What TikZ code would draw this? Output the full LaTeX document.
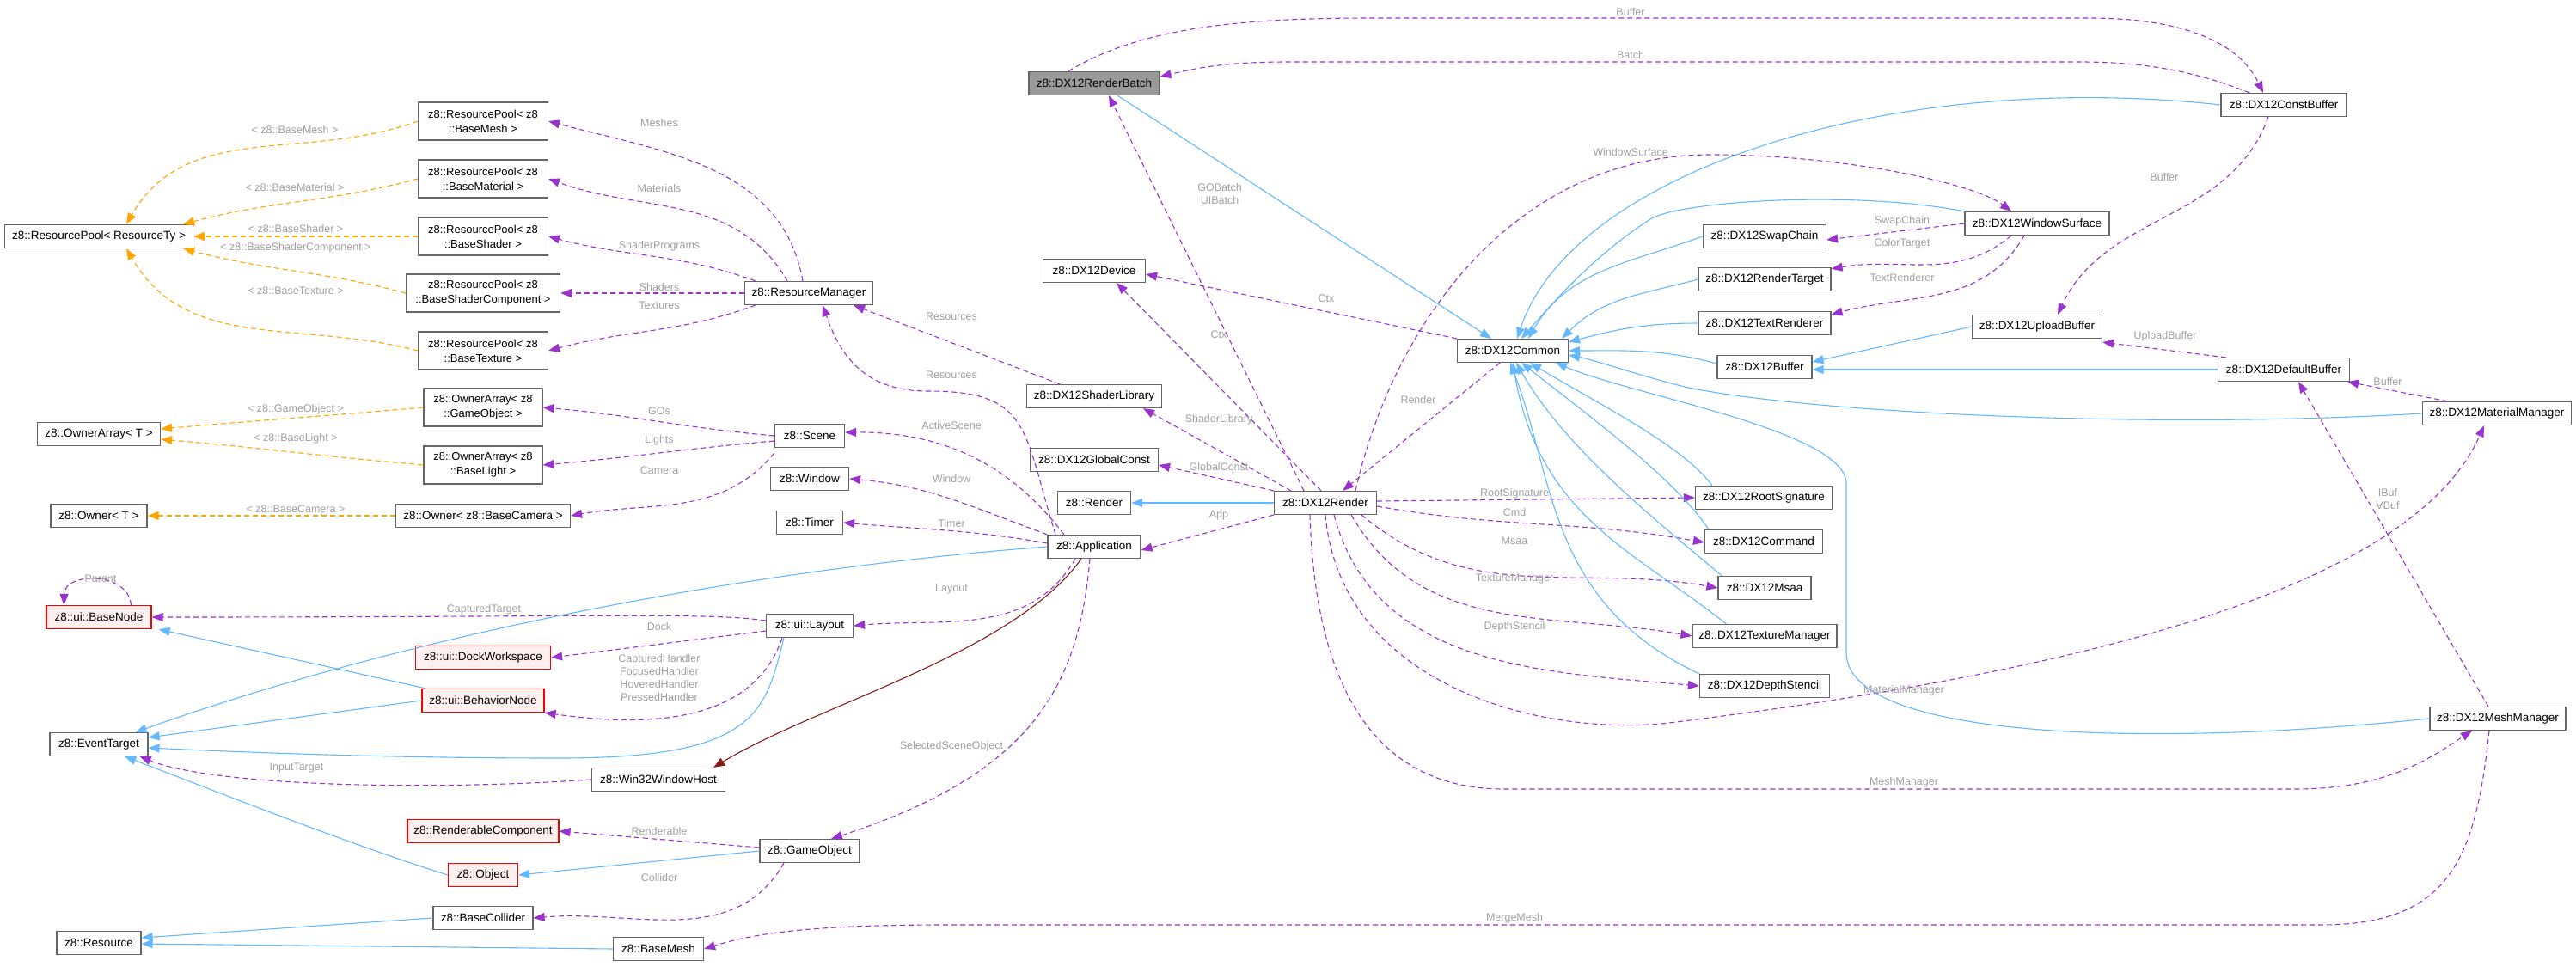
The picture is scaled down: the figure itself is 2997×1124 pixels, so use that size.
\documentclass[tikz,border=0pt]{standalone}
\usepackage{fontspec}
\setmainfont{Liberation Sans}
\usetikzlibrary{arrows.meta}
\definecolor{pur}{HTML}{9A32CD}
\definecolor{blu}{HTML}{63B8FF}
\definecolor{org}{HTML}{FFA500}
\definecolor{drd}{HTML}{8B1A1A}
\definecolor{lblc}{HTML}{A0A0A0}
\definecolor{bx}{HTML}{666666}
\begin{document}
\begin{tikzpicture}[x=1pt,y=-1pt,
 n/.style={draw=bx,line width=1.2pt,fill=white,minimum height=27pt,inner sep=1pt,font=\fontsize{13.5}{15}\selectfont,align=center},
 n2/.style={n,minimum height=44pt,font=\fontsize{13}{17}\selectfont},
 red/.style={n,draw=red,fill=red!6},
 inh/.style={draw=blu,line width=1.1pt,-{Triangle[length=13pt,width=10pt]}},
 use/.style={draw=pur,line width=1.1pt,dash pattern=on 6pt off 4pt,-{Triangle[length=13pt,width=10pt]}},
 tmpl/.style={draw=org,line width=1.1pt,dash pattern=on 6pt off 4pt,-{Triangle[length=13pt,width=10pt]}},
 lbl/.style={text=lblc,font=\fontsize{12.5}{15}\selectfont,align=center,inner sep=0pt}]
\useasboundingbox (0,0) rectangle (2997,1124);
% nodes
\node[n,minimum width=219] (rp) at (115,275) {z8::ResourcePool< ResourceTy >};
\node[n2,minimum width=151] (rpMesh) at (562,141) {z8::ResourcePool< z8\\::BaseMesh >};
\node[n2,minimum width=151] (rpMat) at (562,208) {z8::ResourcePool< z8\\::BaseMaterial >};
\node[n2,minimum width=151] (rpShd) at (562,275) {z8::ResourcePool< z8\\::BaseShader >};
\node[n2,minimum width=179] (rpShc) at (562,341) {z8::ResourcePool< z8\\::BaseShaderComponent >};
\node[n2,minimum width=151] (rpTex) at (562,408) {z8::ResourcePool< z8\\::BaseTexture >};
\node[n,minimum width=143] (oa) at (115,505) {z8::OwnerArray< T >};
\node[n2,minimum width=138] (oaGO) at (562,474) {z8::OwnerArray< z8\\::GameObject >};
\node[n2,minimum width=138] (oaLt) at (562,541) {z8::OwnerArray< z8\\::BaseLight >};
\node[n,minimum width=112] (ow) at (115,600) {z8::Owner< T >};
\node[n,minimum width=203] (owCam) at (562,600) {z8::Owner< z8::BaseCamera >};
\node[n,minimum width=149] (rm) at (941,341) {z8::ResourceManager};
\node[n,minimum width=81] (scene) at (942,507) {z8::Scene};
\node[n,minimum width=91] (win) at (942,557) {z8::Window};
\node[n,minimum width=77] (timer) at (942,608) {z8::Timer};
\node[n,minimum width=108] (app) at (1273,636) {z8::Application};
\node[red,minimum width=122] (basenode) at (115,718) {z8::ui::BaseNode};
\node[n,minimum width=114] (evt) at (115,866) {z8::EventTarget};
\node[red,minimum width=157] (dock) at (562,765) {z8::ui::DockWorkspace};
\node[red,minimum width=142] (beh) at (562,815) {z8::ui::BehaviorNode};
\node[n,minimum width=101] (layout) at (942,728) {z8::ui::Layout};
\node[n,minimum width=155] (host) at (766,907) {z8::Win32WindowHost};
\node[red,minimum width=176] (rcomp) at (562,967) {z8::RenderableComponent};
\node[red,minimum width=81] (obj) at (562,1018) {z8::Object};
\node[n,minimum width=116] (go) at (942,990) {z8::GameObject};
\node[n,minimum width=116] (coll) at (562,1068) {z8::BaseCollider};
\node[n,minimum width=98] (res) at (115,1097) {z8::Resource};
\node[n,minimum width=105] (bmesh) at (766,1104) {z8::BaseMesh};
\node[n,minimum width=152,fill=black!40] (batch) at (1273,97) {z8::DX12RenderBatch};
\node[n,minimum width=119] (device) at (1273,315) {z8::DX12Device};
\node[n,minimum width=157] (shlib) at (1273,461) {z8::DX12ShaderLibrary};
\node[n,minimum width=149] (gconst) at (1273,535) {z8::DX12GlobalConst};
\node[n,minimum width=85] (render) at (1273,585) {z8::Render};
\node[n,minimum width=119] (dxr) at (1542,585) {z8::DX12Render};
\node[n,minimum width=129] (common) at (1760,408) {z8::DX12Common};
\node[n,minimum width=143] (swap) at (2053,275) {z8::DX12SwapChain};
\node[n,minimum width=154] (rtgt) at (2053,325) {z8::DX12RenderTarget};
\node[n,minimum width=154] (txtr) at (2053,376) {z8::DX12TextRenderer};
\node[n,minimum width=110] (buf) at (2053,427) {z8::DX12Buffer};
\node[n,minimum width=146] (cbuf) at (2657,122) {z8::DX12ConstBuffer};
\node[n,minimum width=168] (wsurf) at (2370,260) {z8::DX12WindowSurface};
\node[n,minimum width=151] (upl) at (2370,380) {z8::DX12UploadBuffer};
\node[n,minimum width=153] (dbuf) at (2657,430) {z8::DX12DefaultBuffer};
\node[n,minimum width=173] (matm) at (2905,481) {z8::DX12MaterialManager};
\node[n,minimum width=159] (rsig) at (2052,579) {z8::DX12RootSignature};
\node[n,minimum width=137] (cmd) at (2052,630) {z8::DX12Command};
\node[n,minimum width=108] (msaa) at (2053,684) {z8::DX12Msaa};
\node[n,minimum width=168] (texm) at (2053,740) {z8::DX12TextureManager};
\node[n,minimum width=151] (dsten) at (2053,798) {z8::DX12DepthStencil};
\node[n,minimum width=158] (meshm) at (2906,836) {z8::DX12MeshManager};
% template edges
\draw[tmpl] (rpMesh.west) to[out=200,in=60] ([xshift=32pt]rp.north);
\draw[tmpl] (rpMat.west) to[out=195,in=15] ([xshift=-12pt]rp.north east);
\draw[tmpl] (rpShd.west) -- (rp.east);
\draw[tmpl] (rpShc.west) to[out=165,in=-15] ([xshift=-12pt]rp.south east);
\draw[tmpl] (rpTex.west) to[out=165,in=-60] ([xshift=32pt]rp.south);
\draw[tmpl] (oaGO.west) to[out=185,in=5] ([yshift=6pt]oa.east);
\draw[tmpl] (oaLt.west) to[out=175,in=-5] ([yshift=-6pt]oa.east);
\draw[tmpl] (owCam.west) -- (ow.east);
% resource manager
\draw[use] ([xshift=-7pt]rm.north) to[out=100,in=-15] (rpMesh.east);
\draw[use] ([xshift=-25pt]rm.north) to[out=120,in=-20] (rpMat.east);
\draw[use] ([xshift=13pt]rm.north west) to[out=160,in=-15] (rpShd.east);
\draw[use] (rm.west) -- (rpShc.east);
\draw[use] ([xshift=13pt]rm.south west) to[out=200,in=15] (rpTex.east);
\draw[use] ([xshift=-45pt]app.north) .. controls (1190,500) and (1200,455) .. (1080,455) .. controls (1010,455) and (980,420) .. ([xshift=16pt]rm.south);
\draw[use] ([xshift=-40pt]shlib.north) -- ([xshift=52pt]rm.south);
% scene
\draw[use] (scene.west) to[out=175,in=-5] (oaGO.east);
\draw[use] ([yshift=-6pt]scene.west) to[out=185,in=5] (oaLt.east);
\draw[use] ([yshift=-6pt]scene.south west) to[out=230,in=10] (owCam.east);
\draw[use] ([xshift=-35pt]app.north) .. controls (1190,560) and (1120,502) .. ([yshift=4pt]scene.east);
\draw[use] (app.north west) to[out=160,in=-5] (win.east);
\draw[use] ([yshift=4pt]app.west) to[out=170,in=-5] (timer.east);
\draw[use] ([xshift=-22pt]app.south) to[out=240,in=5] (layout.east);
\draw[use] ([xshift=-5pt]app.south) .. controls (1255,800) and (1200,900) .. ([xshift=25pt]go.north);
\draw[use] (dxr.south west) -- ([yshift=-4pt]app.east);
% ui
\draw[use] ([xshift=99pt]basenode.north west) .. controls (150,665) and (75,665) .. ([xshift=21pt]basenode.north west);
\draw[use] ([yshift=6pt]layout.west) .. controls (820,712) and (700,718) .. (basenode.east);
\draw[use] ([yshift=-6pt]layout.west) -- (dock.east);
\draw[use] ([xshift=-32pt]layout.south) .. controls (880,830) and (780,850) .. (beh.south east);
\draw[use] (host.west) .. controls (500,920) and (250,915) .. ([xshift=-10pt]evt.south east);
\draw[use] ([yshift=4pt]go.west) -- (rcomp.east);
\draw[use] ([xshift=-30pt]go.south) to[out=240,in=5] (coll.east);
\draw[use] ([xshift=-10pt]meshm.south) .. controls (2880,1000) and (2850,1076) .. (2700,1076) -- (1100,1076) .. controls (950,1076) and (880,1085) .. (bmesh.east);
% inheritance misc
\draw[inh] (dxr.west) -- (render.east);
\draw[inh] (app.west) .. controls (900,660) and (500,730) .. ([xshift=-15pt]evt.north east);
\draw[inh] ([xshift=-30pt]layout.south) .. controls (890,830) and (880,882) .. (650,882) .. controls (450,882) and (280,875) .. ([yshift=-4pt]evt.east);
\draw[inh] (beh.west) -- ([yshift=8pt]evt.east);
\draw[inh] ([xshift=5pt]beh.north west) -- ([xshift=8pt]basenode.south east);
\draw[inh] (obj.west) .. controls (400,980) and (250,920) .. ([xshift=30pt]evt.south);
\draw[inh] (go.west) -- (obj.east);
\draw[inh] (coll.west) -- ([yshift=6pt]res.east);
\draw[inh] (bmesh.west) -- ([yshift=-1pt]res.east);
\draw[drd,line width=1.1pt,-{Triangle[length=13pt,width=10pt]}] ([xshift=-15pt]app.south) .. controls (1180,760) and (950,820) .. ([xshift=-14pt]host.north east);
% DX12
\draw[use] ([xshift=-30pt]batch.north) .. controls (1330,30) and (1450,21) .. (1600,21) -- (2430,21) .. controls (2560,21) and (2610,60) .. ([xshift=-24pt]cbuf.north);
\draw[use] ([xshift=-40pt]cbuf.north) .. controls (2560,85) and (2500,72) .. (2420,72) -- (1500,72) .. controls (1420,72) and (1390,80) .. ([yshift=8pt]batch.east);
\draw[use] ([xshift=-25pt]dxr.north) -- ([xshift=17pt]batch.south);
\draw[inh] ([xshift=27pt]batch.south) -- ([xshift=-25pt]common.north);
\draw[use] ([xshift=-5pt]dxr.north) -- ([xshift=26pt]device.south);
\draw[use] (common.north west) -- ([yshift=-4pt]device.east);
\draw[use] ([xshift=-40pt]dxr.north) -- ([xshift=57pt]shlib.south);
\draw[use] (dxr.north west) -- ([yshift=-6pt]gconst.east);
\draw[use] ([xshift=-15pt]common.south) -- ([xshift=20pt]dxr.north);
\draw[use] ([xshift=35pt]dxr.north) .. controls (1620,380) and (1760,180) .. (1990,180) .. controls (2150,180) and (2300,215) .. ([xshift=-30pt]wsurf.north);
\draw[use] (wsurf.west) -- ([yshift=-4pt]swap.east);
\draw[use] ([xshift=-30pt]wsurf.south) to[out=220,in=10] ([yshift=-2pt]rtgt.north east);
\draw[use] ([xshift=-15pt]wsurf.south) to[out=240,in=15] ([yshift=-4pt]txtr.north east);
\draw[use] ([xshift=-18pt]cbuf.south) to[out=-110,in=65] ([xshift=24pt]upl.north);
\draw[use] ([xshift=10pt]dbuf.north west) -- ([yshift=-4pt]upl.south east);
\draw[use] ([xshift=30pt]matm.north west) -- ([xshift=-3pt]dbuf.south east);
\draw[use] ([xshift=-11pt]meshm.north) -- ([xshift=17pt]dbuf.south);
\draw[use] ([yshift=2pt]dxr.east) -- (rsig.west);
\draw[use] ([yshift=-4pt]dxr.east) to[out=-10,in=170] ([yshift=-1pt]cmd.west);
\draw[use] ([xshift=-18pt]dxr.south east) to[out=-40,in=170] (msaa.west);
\draw[use] ([xshift=-30pt]dxr.south east) to[out=-60,in=170] (texm.west);
\draw[use] ([xshift=10pt]dxr.south) to[out=-75,in=175] (dsten.west);
\draw[use] ([xshift=0pt]dxr.south) .. controls (1560,800) and (1800,860) .. (1950,840) .. controls (2350,790) and (2800,700) .. ([xshift=-15pt]matm.south);
\draw[use] ([xshift=-18pt]dxr.south) .. controls (1530,800) and (1600,918) .. (1750,918) -- (2670,918) .. controls (2780,918) and (2830,880) .. ([xshift=-30pt]meshm.south);
% blue to DX12Common
\draw[inh] (cbuf.west) .. controls (2200,80) and (1830,200) .. ([xshift=5pt]common.north);
\draw[inh] (wsurf.north west) .. controls (2150,220) and (1950,235) .. (1920,255) .. controls (1850,300) and (1800,360) .. ([xshift=10pt]common.north);
\draw[inh] (swap.west) to[out=200,in=60] ([xshift=18pt]common.north);
\draw[inh] (rtgt.west) to[out=195,in=45] ([xshift=-8pt]common.north east);
\draw[inh] (txtr.west) to[out=180,in=15] ([yshift=-4pt]common.north east);
\draw[inh] ([yshift=4pt]buf.west) to[out=165,in=0] (common.east);
\draw[inh] (upl.west) -- ([yshift=6pt]buf.east);
\draw[inh] (dbuf.west) -- ([yshift=-3pt]buf.east);
\draw[inh] (matm.west) .. controls (2500,500) and (2100,480) .. (1960,450) .. controls (1900,435) and (1860,420) .. ([yshift=-5pt]common.east);
\draw[inh] (meshm.west) .. controls (2500,870) and (2150,860) .. (2148,760) -- (2148,560) .. controls (2140,500) and (1900,460) .. ([xshift=-15pt]common.south east);
\draw[inh] ([xshift=20pt]rsig.north west) .. controls (1960,520) and (1860,470) .. ([xshift=20pt]common.south);
\draw[inh] ([xshift=5pt]cmd.north west) .. controls (1950,560) and (1870,500) .. ([xshift=10pt]common.south);
\draw[inh] ([xshift=5pt]msaa.north west) .. controls (1920,600) and (1820,520) .. ([xshift=4pt]common.south);
\draw[inh] ([xshift=40pt]texm.north west) .. controls (1900,640) and (1790,600) .. ([xshift=0pt]common.south);
\draw[inh] ([xshift=0pt]dsten.north west) .. controls (1800,700) and (1810,560) .. ([xshift=-3pt]common.south);
% labels
\node[lbl] (l1) at (343,151) {< z8::BaseMesh >};
\node[lbl] (l2) at (343,218) {< z8::BaseMaterial >};
\node[lbl] (l3) at (344,266) {< z8::BaseShader >};
\node[lbl] (l4) at (344,288) {< z8::BaseShaderComponent >};
\node[lbl] (l5) at (344,338) {< z8::BaseTexture >};
\node[lbl] (l6) at (767,143) {Meshes};
\node[lbl] (l7) at (767,219) {Materials};
\node[lbl] (l8) at (767,286) {ShaderPrograms};
\node[lbl] (l9) at (767,334) {Shaders};
\node[lbl] (l10) at (767,355) {Textures};
\node[lbl] (l11) at (344,476) {< z8::GameObject >};
\node[lbl] (l12) at (767,478) {GOs};
\node[lbl] (l13) at (344,510) {< z8::BaseLight >};
\node[lbl] (l14) at (767,512) {Lights};
\node[lbl] (l15) at (767,547) {Camera};
\node[lbl] (l16) at (344,592) {< z8::BaseCamera >};
\node[lbl] (l17) at (117,673) {Parent};
\node[lbl] (l18) at (563,709) {CapturedTarget};
\node[lbl] (l19) at (767,729) {Dock};
\node[lbl] (l20) at (767,789) {CapturedHandler\\FocusedHandler\\HoveredHandler\\PressedHandler};
\node[lbl] (l21) at (1107,685) {Layout};
\node[lbl] (l22) at (345,893) {InputTarget};
\node[lbl] (l23) at (1107,868) {SelectedSceneObject};
\node[lbl] (l24) at (767,967) {Renderable};
\node[lbl] (l25) at (767,1021) {Collider};
\node[lbl] (l26) at (1107,368) {Resources};
\node[lbl] (l27) at (1107,436) {Resources};
\node[lbl] (l28) at (1107,495) {ActiveScene};
\node[lbl] (l29) at (1107,557) {Window};
\node[lbl] (l30) at (1107,609) {Timer};
\node[lbl] (l31) at (1543,347) {Ctx};
\node[lbl] (l32) at (1418,389) {Ctx};
\node[lbl] (l33) at (1418,488) {ShaderLibrary};
\node[lbl] (l34) at (1418,543) {GlobalConst};
\node[lbl] (l35) at (1418,599) {App};
\node[lbl] (l36) at (1897,14) {Buffer};
\node[lbl] (l37) at (1897,64) {Batch};
\node[lbl] (l38) at (1419,226) {GOBatch\\UIBatch};
\node[lbl] (l39) at (1897,177) {WindowSurface};
\node[lbl] (l40) at (1650,465) {Render};
\node[lbl] (l41) at (2518,206) {Buffer};
\node[lbl] (l42) at (2213,257) {SwapChain};
\node[lbl] (l43) at (2213,283) {ColorTarget};
\node[lbl] (l44) at (2213,323) {TextRenderer};
\node[lbl] (l45) at (2519,391) {UploadBuffer};
\node[lbl] (l46) at (2778,444) {Buffer};
\node[lbl] (l47) at (1762,574) {RootSignature};
\node[lbl] (l48) at (1762,596) {Cmd};
\node[lbl] (l49) at (1762,629) {Msaa};
\node[lbl] (l50) at (1762,673) {TextureManager};
\node[lbl] (l51) at (1762,729) {DepthStencil};
\node[lbl] (l52) at (2215,803) {MaterialManager};
\node[lbl] (l53) at (2215,910) {MeshManager};
\node[lbl] (l54) at (2778,581) {IBuf\\VBuf};
\node[lbl] (l55) at (1762,1068) {MergeMesh};
\end{tikzpicture}
\end{document}
